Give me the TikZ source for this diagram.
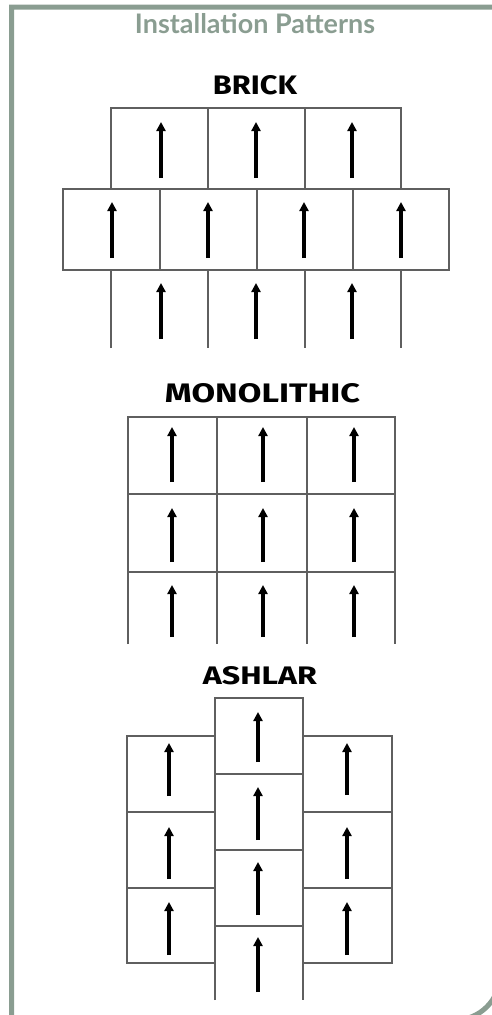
\documentclass[tikz,border=0pt]{standalone}
\usepackage{fontspec}
\setmainfont{Lato}
\newfontfamily\labfont{Fira Sans}
\usetikzlibrary{arrows.meta}
\definecolor{frame}{RGB}{138,157,145}
\definecolor{tileline}{RGB}{95,95,95}
\tikzset{
  tile/.style={draw=tileline, line width=1.3pt},
  dirarrow/.style={line width=3.4pt, -{Triangle[width=9pt,length=9pt]}, black},
  patlabel/.style={inner sep=0pt, font=\labfont\bfseries},
  titletext/.style={inner sep=0pt, anchor=base, text=frame, font=\bfseries}
}
\newcommand{\arr}[3]{\draw[dirarrow] (#1,#3) -- (#1,#2);}
\begin{document}
\begin{tikzpicture}[x=1pt,y=-1pt]
\useasboundingbox (0,0) rectangle (492,1015);
\begin{scope}
\clip (0,0) rectangle (492,1015);
% frame
\draw[frame, line width=5pt] (11.5,1030) -- (11.5,7) -- (500,7) -- (500,975) arc[start angle=0, end angle=90, radius=45] -- (-10,1020);
\end{scope}
\node[titletext] (title) at (255,33) {\resizebox{240pt}{!}{Installation Patterns}};

% ---------- BRICK ----------
\node[patlabel] (brick) at (255,85) {\resizebox{84pt}{19pt}{BRICK}};
\draw[tile] (111,108) rectangle (401,189);
\draw[tile] (208,108) -- (208,189) (305,108) -- (305,189);
\draw[tile] (63,189) rectangle (449,270);
\draw[tile] (160,189) -- (160,270) (257,189) -- (257,270) (353,189) -- (353,270);
\draw[tile] (111,348) -- (111,270) (208,270) -- (208,348) (305,270) -- (305,348) (401,270) -- (401,348);
\arr{161}{122}{178}\arr{256}{122}{178}\arr{352}{122}{178}
\arr{112}{202}{258}\arr{208}{202}{258}\arr{304}{202}{258}\arr{401}{202}{258}
\arr{161}{283}{339}\arr{256}{283}{339}\arr{352}{283}{339}

% ---------- MONOLITHIC ----------
\node[patlabel] (mono) at (262.5,393) {\resizebox{195pt}{19pt}{MONOLITHIC}};
\draw[tile] (128,644) -- (128,417) -- (395,417) -- (395,644);
\draw[tile] (217,417) -- (217,644) (307,417) -- (307,644);
\draw[tile] (128,494) -- (395,494) (128,572) -- (395,572);
\foreach \x in {172,263,354}{
  \arr{\x}{427}{482}\arr{\x}{508}{562}\arr{\x}{585}{637}
}

% ---------- ASHLAR ----------
\node[patlabel] (ashlar) at (260,676) {\resizebox{114pt}{18pt}{ASHLAR}};
\draw[tile] (215,1000) -- (215,698) -- (303,698) -- (303,1000);
\draw[tile] (215,774) -- (303,774) (215,850) -- (303,850) (215,926) -- (303,926);
\draw[tile] (127,736) rectangle (215,963);
\draw[tile] (127,812) -- (215,812) (127,888) -- (215,888);
\draw[tile] (303,736) rectangle (392,963);
\draw[tile] (303,812) -- (392,812) (303,888) -- (392,888);
\arr{169}{743}{796}\arr{169}{827}{879}\arr{169}{902}{955}
\arr{347}{743}{795}\arr{347}{827}{879}\arr{347}{902}{955}
\arr{258}{712}{762}\arr{258}{787}{840}\arr{258}{862}{915}\arr{258}{937}{992}
\end{tikzpicture}
\end{document}
